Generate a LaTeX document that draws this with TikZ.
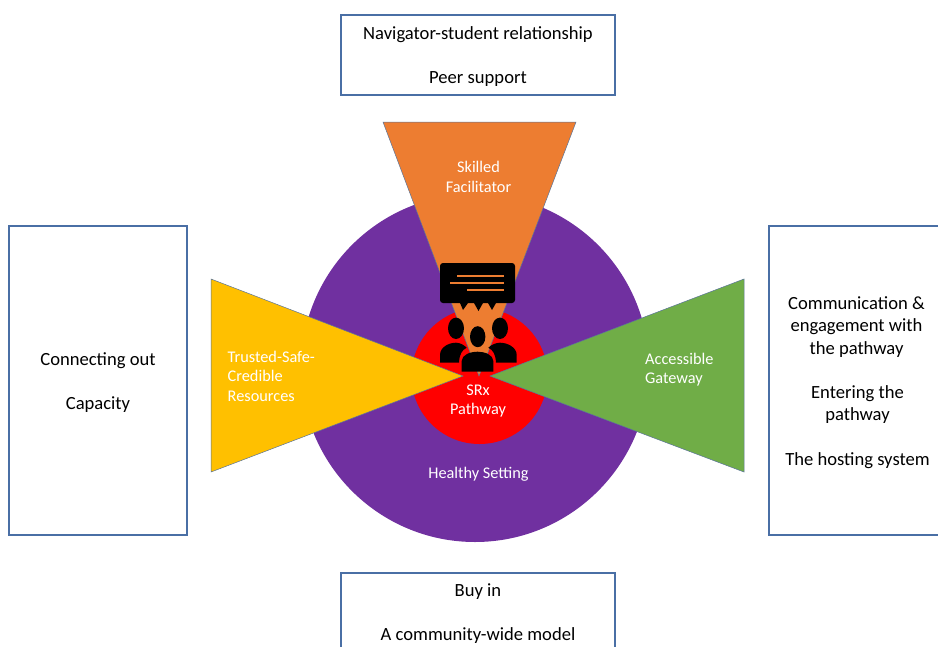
\documentclass[tikz,border=0pt]{standalone}
\usepackage{fontspec}
\setmainfont{Carlito}
\definecolor{boxline}{HTML}{4A6FA5}
\definecolor{purp}{HTML}{7030A0}
\definecolor{orng}{HTML}{ED7D31}
\definecolor{yell}{HTML}{FFC000}
\definecolor{gren}{HTML}{70AD47}
\definecolor{redc}{HTML}{FF0000}
\tikzset{
  infobox/.style={draw=boxline,line width=1.1pt,fill=white},
  wedge/.style={draw=boxline!70!gray,line width=0.5pt},
  blacktxt/.style={font=\fontsize{18.6}{22.6}\selectfont,text=black,align=center,inner sep=0pt},
  whitetxt/.style={font=\fontsize{16.3}{19.6}\selectfont,text=white,align=center,inner sep=0pt},
  whiteleft/.style={whitetxt,align=left},
  barline/.style={orng,line width=2.2pt}
}
\begin{document}
\begin{tikzpicture}[x=1pt,y=-1pt]
\useasboundingbox (0,0) rectangle (938,646);
\begin{scope}
\clip (0,0) rectangle (938,646);
\draw[infobox] (341,15) rectangle (615,95);
\draw[infobox] (9,226) rectangle (187,535);
\draw[infobox] (769,226) rectangle (950,535);
\draw[infobox] (341,573) rectangle (615,665);
\end{scope}
\node[blacktxt] (t1) at (478,35) {Navigator-student relationship};
\node[blacktxt] (t2) at (478,79) {Peer support};
\node[blacktxt] (l1) at (98,360.5) {Connecting out};
\node[blacktxt] (l2) at (98,404.5) {Capacity};
\node[blacktxt] (r1) at (856.5,327) {Communication \&\\engagement with\\the pathway};
\node[blacktxt] (r2) at (857.5,404.5) {Entering the\\pathway};
\node[blacktxt] (r3) at (857.5,460.5) {The hosting system};
\node[blacktxt] (b1) at (478,591.5) {Buy in};
\node[blacktxt] (b2) at (478,635.5) {A community-wide model};
% discs
\fill[purp] (475,368) circle (174);
\fill[redc] (479.5,376) circle (68);
% wedges
\filldraw[wedge,fill=orng] (383,122) -- (576,122) -- (479,376) -- cycle;
\filldraw[wedge,fill=yell] (211,279) -- (211,472) -- (463,376) -- cycle;
\filldraw[wedge,fill=gren] (744,279) -- (744,472) -- (490,376) -- cycle;
% people
\fill[black] (456,328.3) ellipse (8 and 10.7);
\fill[black] (500,328.3) ellipse (8 and 10.7);
\fill[black] (440,362.7) -- (440,355) .. controls (440,347) and (449,342.7) .. (456,342.7) .. controls (460,342.7) and (464,345) .. (466.7,347.7) .. controls (462,350) and (459.5,354) .. (459,362.7) -- cycle;
\fill[black] (516.7,362.7) -- (516.7,355) .. controls (516.7,347) and (507,342.7) .. (500,342.7) .. controls (496,342.7) and (491,345) .. (488.3,347.7) .. controls (493,350) and (495.5,354) .. (496,362.7) -- cycle;
\fill[black] (461.7,371.7) -- (461.7,361) .. controls (461.7,355) and (470,351.7) .. (477.7,351.7) .. controls (485,351.7) and (493.3,355) .. (493.3,361) -- (493.3,371.7) -- cycle;
\fill[black] (477.7,336.7) ellipse (7.7 and 10.5);
% speech bubble
\fill[black,rounded corners=3pt] (440,263) rectangle (515,303);
\fill[black] (460,303) -- (468,303) -- (463,310) -- cycle;
\fill[black] (474,303) -- (483,303) -- (478.5,311) -- cycle;
\fill[black] (488,303) -- (496,303) -- (492,310) -- cycle;
\draw[barline] (457,276) -- (504,276);
\draw[barline] (450,283) -- (504,283);
\draw[barline] (467,290) -- (504,290);
% labels
\node[whitetxt] (skill) at (478.5,177) {Skilled\\Facilitator};
\node[whiteleft,anchor=west] (trust) at (227.5,376) {Trusted-Safe-\\Credible\\Resources};
\node[whiteleft,anchor=west] (gate) at (645,369.5) {Accessible\\Gateway};
\node[whitetxt] (srx) at (478,401) {SRx\\Pathway};
\node[whitetxt] (heal) at (478.5,474) {Healthy Setting};
\end{tikzpicture}
\end{document}
